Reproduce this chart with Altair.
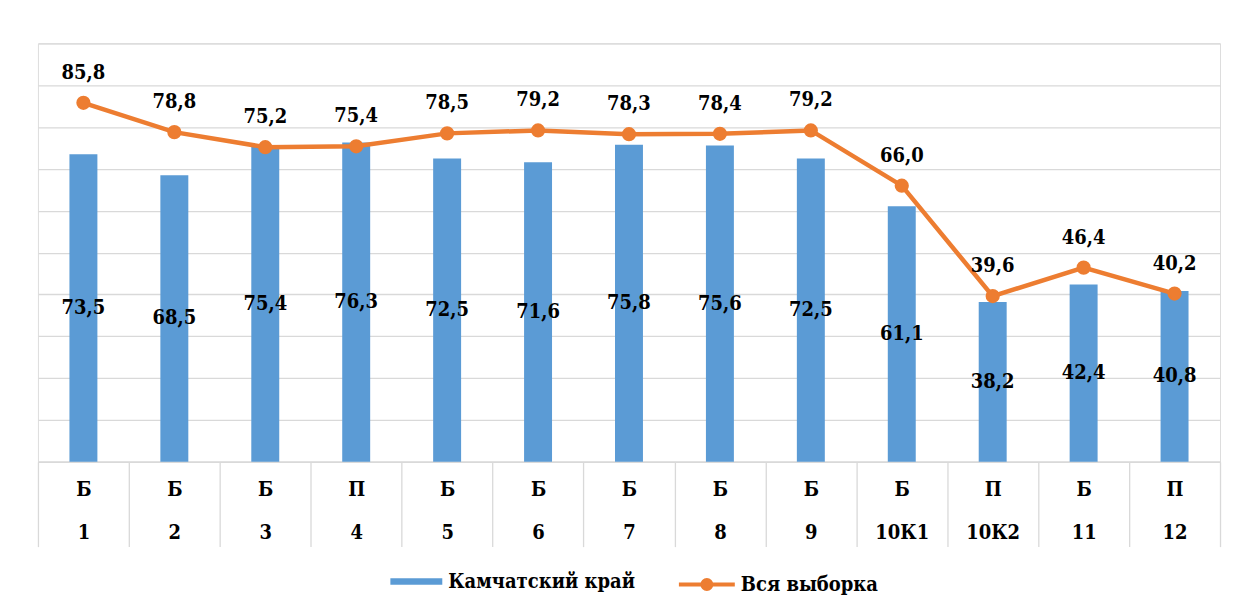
import altair as alt
import pandas as pd

types = ["Б", "Б", "Б", "П", "Б", "Б", "Б", "Б", "Б", "Б", "П", "Б", "П"]
codes = ["1", "2", "3", "4", "5", "6", "7", "8", "9", "10К1", "10К2", "11", "12"]
kamchatka = [73.5, 68.5, 75.4, 76.3, 72.5, 71.6, 75.8, 75.6, 72.5, 61.1, 38.2, 42.4, 40.8]
whole = [85.8, 78.8, 75.2, 75.4, 78.5, 79.2, 78.3, 78.4, 79.2, 66.0, 39.6, 46.4, 40.2]
series_names = ["Камчатский край", "Вся выборка"]

BLUE = "#5B9BD5"
ORANGE = "#ED7D31"
GRID = "#D9D9D9"
FONT = "DejaVu Serif Condensed, DejaVu Serif"
FS = 20

keys = [f"{t}|{c}" for t, c in zip(types, codes)]
fmt = lambda v: f"{v:.1f}".replace(".", ",")

bars_df = pd.DataFrame({
    "key": keys,
    "value": kamchatka,
    "mid": [v / 2 for v in kamchatka],
    "label": [fmt(v) for v in kamchatka],
    "series": series_names[0],
})
line_df = pd.DataFrame({
    "key": keys,
    "value": whole,
    "label": [fmt(v) for v in whole],
    "series": series_names[1],
})

x_enc = alt.X(
    "key:N",
    sort=keys,
    scale=alt.Scale(paddingInner=0, paddingOuter=0),
    axis=alt.Axis(
        title=None,
        labelAngle=0,
        labelExpr="split(datum.label, '|')",
        labelFont=FONT,
        labelFontWeight="bold",
        labelFontSize=FS,
        labelColor="black",
        labelLineHeight=43,
        labelBaseline="top",
        labelPadding=-67,
        tickBand="extent",
        tickSize=85,
        tickColor=GRID,
        tickWidth=1.3,
        domainColor=GRID,
        domainWidth=1.3,
        grid=False,
    ),
)

y_scale = alt.Scale(domain=[0, 100], nice=False)
y_axis = alt.Axis(
    title=None,
    labels=False,
    ticks=False,
    domain=False,
    values=list(range(0, 101, 10)),
    grid=True,
    gridColor=GRID,
    gridWidth=1.3,
)

bar_legend_path = "M-1,-0.125H1V0.125H-1Z"
line_legend_path = "M-1,0H1M-0.16,0A0.16,0.16 0 1,0 0.16,0A0.16,0.16 0 1,0 -0.16,0"

bars = alt.Chart(bars_df).mark_bar(size=28).encode(
    x=x_enc,
    y=alt.Y("value:Q", scale=y_scale, axis=y_axis),
    color=alt.Color(
        "series:N",
        scale=alt.Scale(domain=[series_names[0]], range=[BLUE]),
        legend=alt.Legend(
            title=None,
            orient="none",
            legendX=353,
            legendY=513,
            symbolType=bar_legend_path,
            symbolSize=2704,
            symbolStrokeWidth=0,
            labelFont=FONT,
            labelFontWeight="bold",
            labelFontSize=FS,
            labelColor="black",
            labelOffset=6,
            labelLimit=400,
        ),
    ),
)

bar_text = alt.Chart(bars_df).mark_text(
    font=FONT, fontWeight="bold", fontSize=FS, color="black", baseline="middle"
).encode(
    x=alt.X("key:N", sort=keys),
    y=alt.Y("mid:Q", scale=y_scale),
    text="label:N",
)

line = alt.Chart(line_df).mark_line(
    strokeWidth=4.5,
    point=alt.OverlayMarkDef(filled=True, size=150, color=ORANGE),
).encode(
    x=alt.X("key:N", sort=keys),
    y=alt.Y("value:Q", scale=y_scale),
    stroke=alt.Stroke(
        "series:N",
        scale=alt.Scale(domain=[series_names[1]], range=[ORANGE]),
        legend=alt.Legend(
            title=None,
            orient="none",
            legendX=640,
            legendY=512,
            symbolType=line_legend_path,
            symbolSize=3136,
            symbolStrokeWidth=4,
            symbolFillColor=ORANGE,
            symbolStrokeColor=ORANGE,
            labelFont=FONT,
            labelFontWeight="bold",
            labelFontSize=FS,
            labelColor="black",
            labelOffset=4,
            labelLimit=400,
        ),
    ),
)

line_text = alt.Chart(line_df).mark_text(
    font=FONT, fontWeight="bold", fontSize=FS, color="black", baseline="middle", dy=-30
).encode(
    x=alt.X("key:N", sort=keys),
    y=alt.Y("value:Q", scale=y_scale),
    text="label:N",
)

chart = alt.layer(bars, bar_text, line, line_text).properties(
    width=1184,
    height=419,
    padding={"left": 29, "top": 35, "right": 8, "bottom": 5},
).configure_view(stroke=None).configure(background="white")

chart.save("out.html", embed_options={"renderer": "svg", "actions": False})
